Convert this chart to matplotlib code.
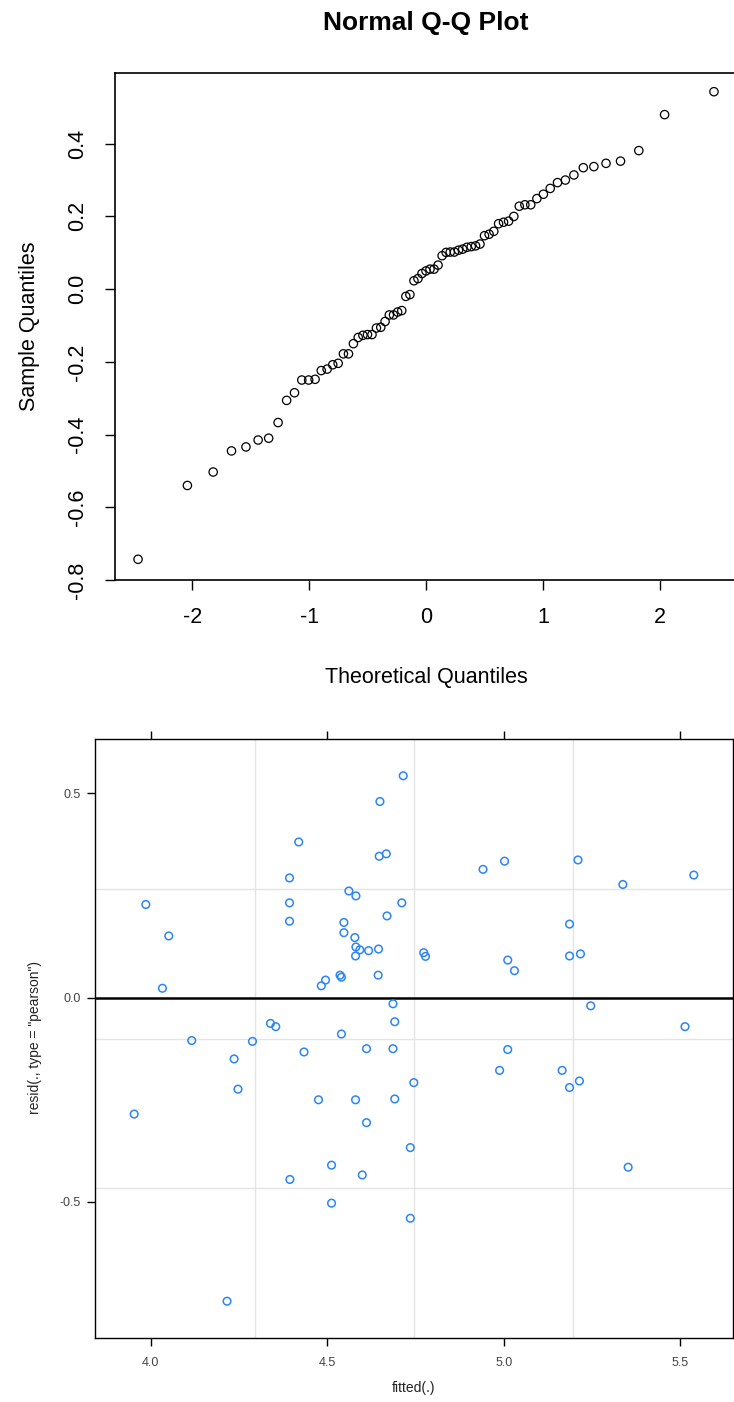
import numpy as np
import matplotlib
matplotlib.use("Agg")
import matplotlib.pyplot as plt
from statistics import NormalDist

plt.rcParams['font.family'] = ['Liberation Sans', 'DejaVu Sans']
plt.rcParams['axes.unicode_minus'] = False

# ---- data ----
fitted = [4.715, 4.649, 4.419, 4.647, 4.667, 4.393, 4.561, 4.581, 3.986, 4.393,
          4.711, 4.669, 4.393, 4.547, 4.051, 4.547, 4.578, 4.581, 4.592, 4.617,
          4.645, 4.580, 4.536, 4.540, 4.644, 4.495, 4.483, 4.033, 4.941, 5.002,
          5.210, 5.538, 5.337, 5.186, 4.773, 4.778, 5.011, 5.030, 5.186, 5.217,
          4.686, 4.691, 4.339, 4.354, 5.246, 5.513, 5.011, 4.988, 5.165, 4.745,
          5.214, 5.186, 4.735, 5.352, 4.735, 4.116, 4.288, 4.540, 4.236, 4.434,
          4.611, 4.686, 4.247, 3.953, 4.475, 4.580, 4.691, 4.611, 4.512, 4.599,
          4.394, 4.512, 4.216]
resid = [0.543, 0.480, 0.381, 0.346, 0.352, 0.293, 0.261, 0.249, 0.228, 0.232,
         0.232, 0.200, 0.187, 0.184, 0.151, 0.159, 0.147, 0.124, 0.117, 0.115,
         0.119, 0.102, 0.055, 0.050, 0.055, 0.043, 0.029, 0.023, 0.314, 0.334,
         0.337, 0.300, 0.277, 0.180, 0.110, 0.101, 0.092, 0.066, 0.102, 0.107,
         -0.015, -0.059, -0.063, -0.071, -0.020, -0.071, -0.127, -0.178, -0.178, -0.208,
         -0.204, -0.220, -0.367, -0.415, -0.540, -0.105, -0.107, -0.089, -0.150, -0.133,
         -0.125, -0.125, -0.224, -0.285, -0.250, -0.250, -0.248, -0.306, -0.410, -0.434,
         -0.445, -0.503, -0.743]

qq_xticks = [-2, -1, 0, 1, 2]
qq_yticks = [-0.8, -0.6, -0.4, -0.2, 0.0, 0.2, 0.4]
qq_ytick_labels = ["-0.8", "-0.6", "-0.4", "-0.2", "0.0", "0.2", "0.4"]
rv_xticks = [4.0, 4.5, 5.0, 5.5]
rv_xtick_labels = ["4.0", "4.5", "5.0", "5.5"]
rv_yticks = [-0.5, 0.0, 0.5]
rv_ytick_labels = ["-0.5", "0.0", "0.5"]

W, H = 734, 1402
fig = plt.figure(figsize=(W / 100, H / 100), dpi=100)

def box(l, t, r, b):
    return [l / W, 1 - b / H, (r - l) / W, (b - t) / H]

# ---------------- Normal Q-Q plot ----------------
sample = np.sort(np.array(resid))
n = len(sample)
nd = NormalDist()
theo = np.array([nd.inv_cdf((i - 0.5) / n) for i in range(1, n + 1)])

ax1 = fig.add_axes(box(115, 73, 737, 580))
ax1.scatter(theo, sample, s=36, facecolors='none', edgecolors='black', linewidths=0.9, zorder=3)
xr = theo.max() - theo.min()
yr = sample.max() - sample.min()
ax1.set_xlim(theo.min() - 0.04 * xr, theo.max() + 0.04 * xr)
ax1.set_ylim(sample.min() - 0.04 * yr, sample.max() + 0.04 * yr)
ax1.set_xticks(qq_xticks)
ax1.set_xticklabels([str(v) for v in qq_xticks])
ax1.set_yticks(qq_yticks)
ax1.set_yticklabels(qq_ytick_labels, rotation=90, va='center')
ax1.tick_params(axis='both', direction='out', length=7.5, width=1.0, labelsize=15.5, colors='black')
ax1.tick_params(axis='x', pad=12)
ax1.tick_params(axis='y', pad=12)
for sp in ax1.spines.values():
    sp.set_linewidth(1.2)
    sp.set_color('black')

fig.text(426 / W, 1 - 23 / H, "Normal Q-Q Plot", ha='center', va='center',
         fontsize=19, fontweight='bold')
fig.text(426 / W, 1 - 677 / H, "Theoretical Quantiles", ha='center', va='center', fontsize=15.5)
fig.text(30 / W, 1 - 326 / H, "Sample Quantiles", ha='center', va='center',
         rotation=90, fontsize=15.5)

# ---------------- Residuals vs fitted (lattice style) ----------------
ax2 = fig.add_axes(box(95, 739, 733, 1338))
fx = np.array(fitted)
ry = np.array(resid)
pad = 0.07
fr = fx.max() - fx.min()
rr = ry.max() - ry.min()
xl = (fx.min() - pad * fr, fx.max() + pad * fr)
yl = (ry.min() - pad * rr, ry.max() + pad * rr)
ax2.set_xlim(*xl)
ax2.set_ylim(*yl)
for gx in np.linspace(xl[0], xl[1], 5)[1:-1]:
    ax2.axvline(gx, color='#e4e4e4', lw=1.0, zorder=1)
for gy in np.linspace(yl[0], yl[1], 5)[1:-1]:
    ax2.axhline(gy, color='#e4e4e4', lw=1.0, zorder=1)
ax2.axhline(0, color='black', lw=1.8, zorder=2)
ax2.scatter(fx, ry, s=30, facecolors='none', edgecolors='#2b85f5', linewidths=1.1, zorder=3)
ax2.set_xticks(rv_xticks)
ax2.set_xticklabels(rv_xtick_labels)
ax2.set_yticks(rv_yticks)
ax2.set_yticklabels(rv_ytick_labels)
ax2.tick_params(axis='both', direction='out', length=6, width=1.0, labelsize=9,
                colors='black', labelcolor='#444444', top=True, right=True)
ax2.tick_params(axis='x', pad=8)
ax2.tick_params(axis='y', pad=4)
for sp in ax2.spines.values():
    sp.set_linewidth(1.0)
    sp.set_color('black')

fig.text(414 / W, 1 - 1388 / H, "fitted(.)", ha='center', va='center', fontsize=10, color='#222222')
fig.text(35 / W, 1 - 1038 / H, 'resid(., type = "pearson")', ha='center', va='center',
         rotation=90, fontsize=10, color='#222222')

fig.savefig("out.png", dpi=100)
